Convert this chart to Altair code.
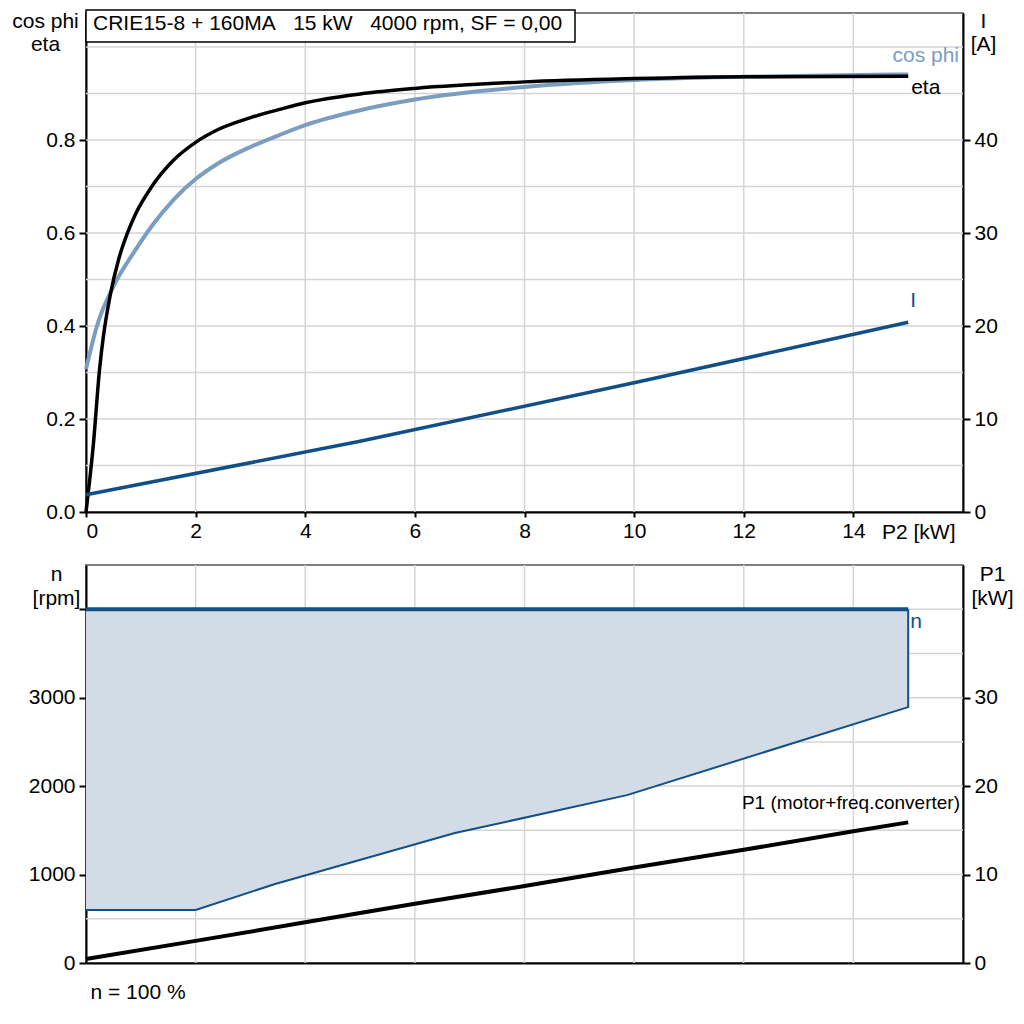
import pandas as pd
import altair as alt

FONT = "Liberation Sans"
FS = 21
DARK_BLUE = "#134f87"
LIGHT_BLUE = "#7b9dc0"
FILL = "#d1dce7"
GRID = "#d4d4d4"

title_text = "CRIE15-8 + 160MA\u00a0\u00a0\u00a015 kW\u00a0\u00a0\u00a04000 rpm, SF = 0,00"

# top panel: eta, cos phi (left axis) and I (right axis) against P2
p2_eta = [0, 0.13, 0.25, 0.32, 0.44, 0.6, 0.75, 0.9, 1.2, 1.6, 2.0, 2.4, 3.0, 3.6, 4.0, 5, 6, 8, 10, 12, 15]
eta = [0.0, 0.14, 0.31, 0.38, 0.465, 0.545, 0.598, 0.64, 0.70, 0.757, 0.795, 0.822, 0.848, 0.868, 0.88,
       0.899, 0.911, 0.925, 0.932, 0.936, 0.937]
p2_cos = [0, 0.2, 0.5, 0.9, 1.2, 1.6, 2.0, 2.4, 3.0, 3.6, 4.0, 5, 6, 8, 10, 12, 15]
cos_phi = [0.307, 0.40, 0.485, 0.563, 0.615, 0.672, 0.716, 0.749, 0.785, 0.814, 0.832, 0.864, 0.887,
           0.914, 0.929, 0.936, 0.941]
p2_i = [0, 5, 10, 15]
current = [1.85, 7.6, 13.9, 20.4]

# bottom panel: speed range and P1
p2_n = [0, 2, 3.45, 6.73, 9.87, 15]
n_min = [600, 600, 893, 1469, 1898, 2893]
n_max = [4000, 4000, 4000, 4000, 4000, 4000]
p2_p1 = [0, 2, 4, 6, 8, 10, 12, 14, 15]
p1 = [0.45, 2.5, 4.6, 6.7, 8.7, 10.8, 12.8, 14.9, 15.9]

grid_p2 = [2, 4, 6, 8, 10, 12, 14]
grid_eta = [0.1, 0.2, 0.3, 0.4, 0.5, 0.6, 0.7, 0.8, 0.9, 1.0]
grid_n = [500, 1000, 1500, 2000, 2500, 3000, 3500, 4000]

W = 877
H_TOP = 499
H_BOT = 398

x_top = alt.X("P2:Q", scale=alt.Scale(domain=[0, 16], nice=False),
              axis=alt.Axis(values=[0, 2, 4, 6, 8, 10, 12, 14], format="d", tickSize=5, labelPadding=3,
                            title="P2 [kW]", titleX=869, titleY=20, titleAlign="right",
                            titleBaseline="middle"))
y_eta = alt.Y("y:Q", scale=alt.Scale(domain=[0, H_TOP / 465], nice=False),
              axis=alt.Axis(orient="left", values=[0, 0.2, 0.4, 0.6, 0.8], format=".1f", tickSize=7,
                            labelPadding=4, title=["cos phi", "eta"], titleAngle=0, titleX=-41, titleY=-3,
                            titleAlign="center", titleBaseline="top", titleLineHeight=23))
y_i = alt.Y("y:Q", scale=alt.Scale(domain=[0, H_TOP / 9.3], nice=False),
            axis=alt.Axis(orient="right", values=[0, 10, 20, 30, 40], tickSize=7, labelPadding=4,
                          title=["I", "[A]"], titleAngle=0, titleX=20, titleY=-3, titleAlign="center",
                          titleBaseline="top", titleLineHeight=23))

grid_v_top = alt.Chart(pd.DataFrame({"P2": grid_p2})).mark_rule(color=GRID, strokeWidth=1.5).encode(x=x_top)
grid_h_top = alt.Chart(pd.DataFrame({"y": grid_eta})).mark_rule(color=GRID, strokeWidth=1.5).encode(y=y_eta)

eta_line = alt.Chart(pd.DataFrame({"P2": p2_eta, "y": eta})).mark_line(
    color="black", strokeWidth=3.5, interpolate="monotone").encode(x=x_top, y=y_eta)
cos_line = alt.Chart(pd.DataFrame({"P2": p2_cos, "y": cos_phi})).mark_line(
    color=LIGHT_BLUE, strokeWidth=4, interpolate="monotone").encode(x=x_top, y=y_eta)

cos_lbl = alt.Chart(pd.DataFrame({"P2": [16], "y": [0.981], "t": ["cos phi"]})).mark_text(
    font=FONT, fontSize=FS, color=LIGHT_BLUE, align="right", baseline="middle", dx=-4
).encode(x=x_top, y=y_eta, text="t:N")
eta_lbl = alt.Chart(pd.DataFrame({"P2": [15], "y": [0.912], "t": ["eta"]})).mark_text(
    font=FONT, fontSize=FS, color="black", align="left", baseline="middle", dx=3
).encode(x=x_top, y=y_eta, text="t:N")

title_df = pd.DataFrame({"t": [title_text]})
title_box = alt.Chart(title_df).mark_rect(fill="white", stroke="black", strokeWidth=1.5).encode(
    x=alt.value(0), x2=alt.value(489), y=alt.value(-3), y2=alt.value(29))
title_lbl = alt.Chart(title_df).mark_text(
    font=FONT, fontSize=FS, color="black", align="left", baseline="middle"
).encode(x=alt.value(7), y=alt.value(11), text="t:N")

i_line = alt.Chart(pd.DataFrame({"P2": p2_i, "y": current})).mark_line(
    color=DARK_BLUE, strokeWidth=3.5).encode(x=x_top, y=y_i)
i_lbl = alt.Chart(pd.DataFrame({"P2": [15], "y": [22.7], "t": ["I"]})).mark_text(
    font=FONT, fontSize=FS, color=DARK_BLUE, align="center", baseline="middle", dx=5
).encode(x=x_top, y=y_i, text="t:N")

left_top = alt.layer(grid_v_top, grid_h_top, cos_line, eta_line, cos_lbl, eta_lbl, title_box, title_lbl)
right_top = alt.layer(i_line, i_lbl)
top = alt.layer(left_top, right_top).resolve_scale(y="independent").properties(width=W, height=H_TOP)

# bottom panel
x_bot = alt.X("P2:Q", scale=alt.Scale(domain=[0, 16], nice=False),
              axis=alt.Axis(labels=False, ticks=False, title="n = 100 %", titleX=4, titleY=29,
                            titleAlign="left", titleBaseline="middle"))
y_n = alt.Y("y:Q", scale=alt.Scale(domain=[0, 4500], nice=False),
            axis=alt.Axis(orient="left", values=[0, 1000, 2000, 3000, 4000], format="d", tickSize=7,
                          labelPadding=4, labelExpr="datum.value == 4000 ? '' : datum.label",
                          title=["n", "[rpm]"], titleAngle=0, titleX=-30, titleY=-2, titleAlign="center",
                          titleBaseline="top", titleLineHeight=24))
y_p1 = alt.Y("y:Q", scale=alt.Scale(domain=[0, 45], nice=False),
             axis=alt.Axis(orient="right", values=[0, 10, 20, 30], tickSize=7, labelPadding=4,
                           title=["P1", "[kW]"], titleAngle=0, titleX=29, titleY=-2, titleAlign="center",
                           titleBaseline="top", titleLineHeight=24))

grid_v_bot = alt.Chart(pd.DataFrame({"P2": grid_p2})).mark_rule(color=GRID, strokeWidth=1.5).encode(x=x_bot)
grid_h_bot = alt.Chart(pd.DataFrame({"y": grid_n})).mark_rule(color=GRID, strokeWidth=1.5).encode(y=y_n)

n_df = pd.DataFrame({"P2": p2_n, "y": n_min, "y2": n_max})
n_area = alt.Chart(n_df).mark_area(color=FILL, opacity=1).encode(x=x_bot, y=y_n, y2="y2:Q")

outline_df = pd.DataFrame({"P2": p2_n + [p2_n[-1]], "y": n_min + [n_max[-1]],
                           "o": list(range(len(p2_n) + 1))})
n_outline = alt.Chart(outline_df).mark_line(color=DARK_BLUE, strokeWidth=2).encode(
    x=x_bot, y=y_n, order="o:Q")
n_top_line = alt.Chart(pd.DataFrame({"P2": p2_n, "y": n_max})).mark_line(
    color=DARK_BLUE, strokeWidth=4).encode(x=x_bot, y=y_n)
n_lbl = alt.Chart(pd.DataFrame({"P2": [15], "y": [3856], "t": ["n"]})).mark_text(
    font=FONT, fontSize=FS, color=DARK_BLUE, align="left", baseline="middle", dx=2
).encode(x=x_bot, y=y_n, text="t:N")

p1_line = alt.Chart(pd.DataFrame({"P2": p2_p1, "y": p1})).mark_line(
    color="black", strokeWidth=4).encode(x=x_bot, y=y_p1)
p1_lbl = alt.Chart(pd.DataFrame({"P2": [16], "y": [18.1], "t": ["P1 (motor+freq.converter)"]})).mark_text(
    font=FONT, fontSize=19, color="black", align="right", baseline="middle", dx=-3
).encode(x=x_bot, y=y_p1, text="t:N")

left_bot = alt.layer(grid_v_bot, grid_h_bot, n_area, n_outline, n_top_line, n_lbl)
right_bot = alt.layer(p1_line, p1_lbl)
bottom = alt.layer(left_bot, right_bot).resolve_scale(y="independent").properties(width=W, height=H_BOT)

chart = alt.vconcat(top, bottom, spacing=19).properties(
    padding={"left": 2, "top": 0, "right": 0, "bottom": 0}
).configure_view(
    stroke="#7f7f7f", strokeWidth=2
).configure_axis(
    labelFont=FONT, titleFont=FONT, labelFontSize=FS, titleFontSize=FS, labelColor="black",
    titleColor="black", titleFontWeight="normal", domainColor="black", domainWidth=2,
    tickColor="black", tickWidth=2, grid=False
)

chart.save("out.html", embed_options={"renderer": "svg", "actions": False})
